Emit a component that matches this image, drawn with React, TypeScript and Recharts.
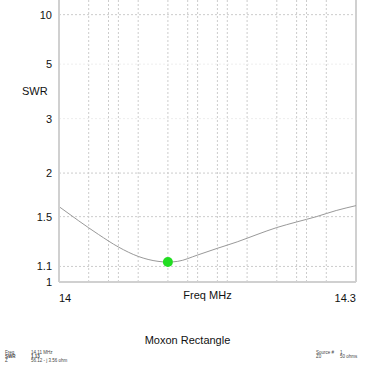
import React from 'react';
import {
	LineChart, Line, XAxis, YAxis, ReferenceLine, ReferenceDot
} from 'recharts';

// SWR sweep
const freqs = [14.0, 14.02, 14.04, 14.06, 14.08, 14.1, 14.11, 14.12, 14.14, 14.16, 14.18, 14.2, 14.22, 14.24, 14.26, 14.28, 14.3];
const swrValues = [1.6, 1.46, 1.34, 1.24, 1.17, 1.135, 1.13, 1.135, 1.18, 1.23, 1.28, 1.34, 1.4, 1.45, 1.5, 1.56, 1.61];

const swrTicks = [1, 1.1, 1.5, 2, 3, 5, 10];
const swrGrid = [1.1, 1.5, 2, 10];
const swrFaintGrid = [3, 5];
const freqTicks = [14, 14.3];
const freqGrid = [14.03, 14.05, 14.06, 14.08, 14.11, 14.13, 14.14, 14.16, 14.17, 14.19, 14.22, 14.24, 14.25, 14.27];

const markerFreq = 14.11;
const markerSwr = 1.13;

// the SWR axis is linear in reflection coefficient
const gamma = (s: number) => (s - 1) / (s + 1);
const swrFromGamma = (g: number) => (1 + g) / (1 - g);
const gammaMax = 0.863;

const data = freqs.map((f, i) => ({ freq: f, g: gamma(swrValues[i]) }));

const FONT = '"Liberation Sans", Arial, sans-serif';
const GRID = '#cccccc';
const AXIS = '#d0d0d0';

const XTick = (props: any) => {
	const { x, y, payload } = props;
	const anchor = payload.value === freqTicks[0] ? 'start' : 'end';
	return (
		<text x={x} y={y + 18} textAnchor={anchor} fontSize={11} fill="#111" fontFamily={FONT}>
			{payload.value}
		</text>
	);
};

const App = () => {
	return (
		<div style={{ position: 'absolute', left: 0, top: 0, width: 375, height: 366, background: '#fff', fontFamily: FONT, overflow: 'hidden' }}>
			<LineChart width={375} height={310} data={data} margin={{ top: 0, right: 19, left: 0, bottom: 0 }}>
				<XAxis
					dataKey="freq"
					type="number"
					domain={[14, 14.3]}
					ticks={freqTicks}
					interval={0}
					tick={<XTick />}
					tickLine={false}
					tickSize={0}
					height={28}
					axisLine={{ stroke: AXIS, strokeWidth: 2 }}
				/>
				<YAxis
					type="number"
					domain={[0, gammaMax]}
					allowDataOverflow
					ticks={swrTicks.map(gamma)}
					interval={0}
					tickFormatter={(v: number) => String(Math.round(swrFromGamma(v) * 10) / 10)}
					tick={{ fontSize: 11, fill: '#111', fontFamily: FONT }}
					tickLine={false}
					tickSize={0}
					tickMargin={7}
					width={59}
					axisLine={{ stroke: AXIS, strokeWidth: 2 }}
				/>
				{freqGrid.map((f) => (
					<ReferenceLine key={'v' + f} x={f} stroke={GRID} strokeDasharray="2 2" strokeWidth={1} />
				))}
				{swrGrid.map((s) => (
					<ReferenceLine key={'h' + s} y={gamma(s)} stroke={GRID} strokeDasharray="2 2" strokeWidth={1} />
				))}
				{swrFaintGrid.map((s) => (
					<ReferenceLine key={'hf' + s} y={gamma(s)} stroke="#eeeeee" strokeDasharray="2 2" strokeWidth={1} />
				))}
				<ReferenceLine x={14.3} stroke={AXIS} strokeWidth={2} />
				<Line
					type="monotone"
					dataKey="g"
					stroke="#999999"
					strokeWidth={1}
					dot={false}
					isAnimationActive={false}
				/>
				<ReferenceDot x={markerFreq} y={gamma(markerSwr)} r={5} fill="#22dd22" stroke="none" />
			</LineChart>

			<div style={{ position: 'absolute', left: 22, top: 85, fontSize: 11, color: '#111' }}>SWR</div>
			<div style={{ position: 'absolute', left: 59, width: 297, top: 289, textAlign: 'center', fontSize: 11, color: '#111' }}>Freq MHz</div>
			<div style={{ position: 'absolute', left: 0, width: 375, top: 334, textAlign: 'center', fontSize: 11, color: '#111' }}>Moxon Rectangle</div>

			<div style={{ position: 'absolute', left: 5, top: 351, fontSize: 4.5, lineHeight: '4.2px', color: '#444' }}>
				<div>Freq</div>
				<div style={{ fontWeight: 'bold' }}>SWR</div>
				<div>Z</div>
			</div>
			<div style={{ position: 'absolute', left: 31, top: 351, fontSize: 4.5, lineHeight: '4.2px', color: '#444' }}>
				<div>{markerFreq} MHz</div>
				<div style={{ fontWeight: 'bold' }}>{markerSwr}</div>
				<div>56.12 - j 3.56 ohm</div>
			</div>
			<div style={{ position: 'absolute', left: 316, top: 351, fontSize: 4.5, lineHeight: '4.2px', color: '#444' }}>
				<div>Source #</div>
				<div>Z0</div>
			</div>
			<div style={{ position: 'absolute', left: 340, top: 351, fontSize: 4.5, lineHeight: '4.2px', color: '#444' }}>
				<div>1</div>
				<div>50 ohms</div>
			</div>
		</div>
	);
};

export default App;
